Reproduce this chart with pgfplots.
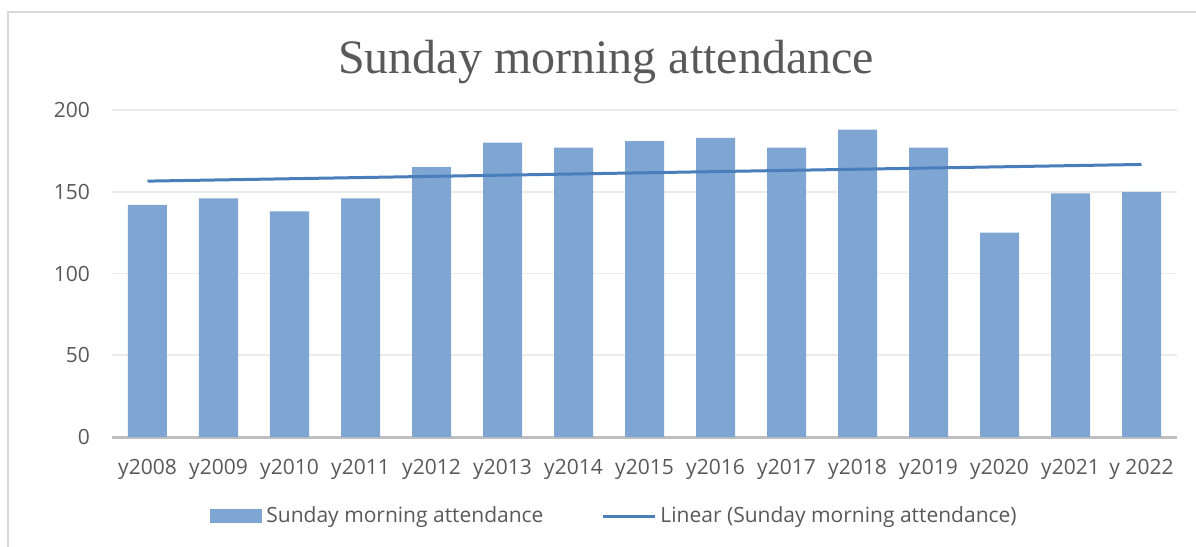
\documentclass[border=0pt]{standalone}
\usepackage{pgfplots}
\pgfplotsset{compat=1.18}
\usepackage{fontspec}
\setmainfont{Open Sans}
\newfontfamily\titlefont{Liberation Serif}
\definecolor{txt}{HTML}{595959}
\definecolor{barc}{HTML}{7FA6D2}
\definecolor{linec}{HTML}{4A7EBB}
\definecolor{gridc}{HTML}{EBEBEB}
\definecolor{axc}{HTML}{BFBFBF}
\definecolor{framec}{HTML}{D9D9D9}
\begin{document}
\begin{tikzpicture}
\path[use as bounding box] (0pt,0pt) rectangle (598pt,273.5pt);
\draw[framec, line width=1pt] (4pt,0pt) -- (4pt,267.5pt) -- (598pt,267.5pt);
\node[txt, font=\titlefont\fontsize{24}{28}\selectfont] at (303pt,242.5pt) {Sunday morning attendance};
\begin{axis}[at={(56pt,55pt)}, anchor=south west, scale only axis,
  width=532.5pt, height=163.5pt,
  xmin=-0.5, xmax=14.5, ymin=0, ymax=200,
  ytick={0,50,100,150,200},
  xtick={0,...,14},
  xticklabels={y2008,y2009,y2010,y2011,y2012,y2013,y2014,y2015,y2016,y2017,y2018,y2019,y2020,y2021,y 2022},
  axis x line=bottom, axis y line=left,
  y axis line style={draw=none},
  x axis line style={axc, line width=1.5pt, -},
  ymajorgrids, grid style={gridc, line width=0.8pt},
  major tick length=0pt,
  tick label style={txt, font=\fontsize{10.5}{12}\selectfont},
  yticklabel style={xshift=-7.5pt},
  xticklabel style={yshift=-7.5pt},
  /pgf/number format/assume math mode=true,
  legend columns=2,
  legend style={draw=none, fill=none, inner sep=0pt, at={(0.092,-0.2)}, anchor=north west,
    font=\fontsize{10.5}{12}\selectfont, text=txt,
    /tikz/every even column/.append style={column sep=27pt}},
  clip=false,
]
\addplot[ybar, bar width=19.5pt, fill=barc, draw=none,
  legend image code/.code={\fill[barc] (0pt,-3.5pt) rectangle (26pt,3.5pt);}]
  coordinates {(0,142) (1,146) (2,138) (3,146) (4,165) (5,180) (6,177) (7,181) (8,183) (9,177) (10,188) (11,177) (12,125) (13,149) (14,150)};
\addlegendentry{Sunday morning attendance}
\addplot[linec, line width=1.5pt,
  legend image code/.code={\draw[linec, line width=1.5pt] (0pt,0pt) -- (26pt,0pt);}]
  coordinates {(0,156.5) (14,166.7)};
\addlegendentry{Linear (Sunday morning attendance)}
\end{axis}
\end{tikzpicture}
\end{document}
